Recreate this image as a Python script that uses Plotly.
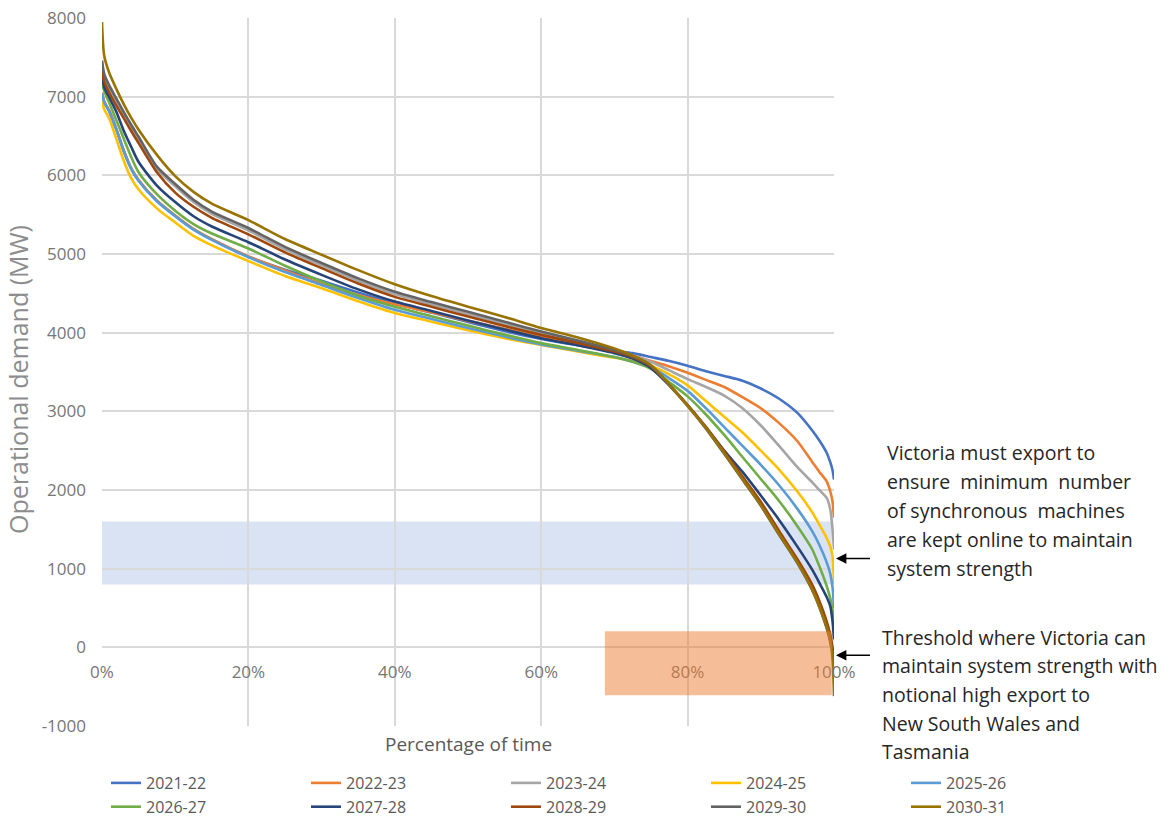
import plotly.graph_objects as go

# ---------------- data ----------------
pct = [0, 0.3, 1, 2, 3, 4, 5, 7.5, 10, 12.5, 15, 20, 25, 30, 35, 40, 45, 50, 55, 60,
       65, 70, 72.5, 75, 77.5, 80, 82.5, 85, 87.5, 90, 92.5, 95, 97, 98, 99, 99.5, 99.8, 100]

names = ["2021-22", "2022-23", "2023-24", "2024-25", "2025-26",
         "2026-27", "2027-28", "2028-29", "2029-30", "2030-31"]

d2021_22 = [7045, 6935, 6815, 6575, 6305, 6085, 5935, 5675, 5485, 5315, 5185, 4965, 4800, 4660, 4510, 4370, 4255, 4135, 4020, 3920,
            3840, 3770, 3740, 3690, 3640, 3580, 3510, 3450, 3390, 3290, 3160, 2980, 2760, 2630, 2474, 2350, 2250, 2132]
d2022_23 = [7050, 6940, 6820, 6580, 6310, 6090, 5940, 5680, 5490, 5320, 5190, 4970, 4790, 4620, 4480, 4360, 4260, 4150, 4050, 3950,
            3860, 3760, 3710, 3640, 3570, 3490, 3400, 3310, 3180, 3040, 2850, 2620, 2360, 2230, 2110, 1980, 1850, 1650]
d2023_24 = [7430, 7260, 7110, 6940, 6770, 6610, 6460, 6080, 5860, 5660, 5510, 5300, 5060, 4855, 4660, 4490, 4360, 4235, 4110, 3990,
            3880, 3770, 3710, 3630, 3520, 3410, 3310, 3200, 3040, 2820, 2560, 2290, 2100, 2000, 1900, 1750, 1500, 1244]
d2024_25 = [6950, 6840, 6720, 6450, 6180, 5960, 5820, 5580, 5400, 5230, 5110, 4910, 4720, 4565, 4400, 4250, 4140, 4030, 3930, 3845,
            3760, 3680, 3640, 3580, 3470, 3330, 3130, 2930, 2730, 2500, 2260, 1980, 1720, 1560, 1390, 1280, 1150, 800]
d2025_26 = [7040, 6930, 6810, 6570, 6300, 6080, 5930, 5670, 5480, 5310, 5180, 4960, 4770, 4606, 4440, 4290, 4175, 4060, 3950, 3850,
            3770, 3690, 3630, 3560, 3420, 3260, 3040, 2800, 2560, 2320, 2060, 1760, 1480, 1300, 1080, 930, 760, 500]
d2026_27 = [7200, 7070, 6920, 6690, 6460, 6230, 6040, 5760, 5550, 5380, 5260, 5070, 4850, 4650, 4470, 4330, 4210, 4090, 3975, 3867,
            3780, 3690, 3630, 3540, 3370, 3190, 2960, 2700, 2420, 2140, 1860, 1540, 1250, 1030, 780, 620, 480, 300]
d2027_28 = [7300, 7120, 6990, 6800, 6560, 6360, 6170, 5870, 5660, 5480, 5350, 5150, 4930, 4735, 4550, 4395, 4275, 4155, 4040, 3930,
            3840, 3740, 3670, 3550, 3330, 3080, 2800, 2500, 2230, 1930, 1620, 1280, 990, 820, 640, 520, 330, 100]
d2028_29 = [7370, 7190, 7050, 6880, 6720, 6560, 6410, 6040, 5780, 5600, 5460, 5250, 5020, 4820, 4625, 4455, 4330, 4205, 4085, 3972,
            3870, 3760, 3690, 3570, 3340, 3080, 2800, 2490, 2170, 1850, 1480, 1120, 800, 590, 330, 160, 0, -150]
d2029_30 = [7460, 7290, 7140, 6970, 6800, 6640, 6490, 6110, 5890, 5690, 5540, 5330, 5090, 4885, 4690, 4520, 4390, 4265, 4140, 4014,
            3900, 3780, 3700, 3580, 3330, 3070, 2780, 2460, 2130, 1800, 1430, 1070, 730, 510, 240, 60, -90, -300]
d2030_31 = [7950, 7520, 7300, 7090, 6900, 6730, 6580, 6260, 5990, 5790, 5640, 5430, 5190, 4990, 4795, 4615, 4465, 4330, 4200, 4060,
            3940, 3800, 3710, 3590, 3340, 3070, 2790, 2470, 2140, 1810, 1440, 1080, 740, 520, 260, 80, -150, -620]

series = [d2021_22, d2022_23, d2023_24, d2024_25, d2025_26,
          d2026_27, d2027_28, d2028_29, d2029_30, d2030_31]

x_tick_vals = [0, 20, 40, 60, 80, 100]
x_tick_text = ["0%", "20%", "40%", "60%", "80%", "100%"]
y_tick_vals = [-1000, 0, 1000, 2000, 3000, 4000, 5000, 6000, 7000, 8000]
y_tick_text = ["-1000", "0", "1000", "2000", "3000", "4000", "5000", "6000", "7000", "8000"]

# bands (MW) and arrow targets
band_sync = (800, 1600)
band_threshold = (-610, 205)
band_threshold_x = (68.7, 99.7)
arrow_sync_y = 1130
arrow_threshold_y = -100

note1 = ["Victoria must export to", "ensure  minimum  number", "of synchronous  machines",
         "are kept online to maintain", "system strength"]
note2 = ["Threshold where Victoria can", "maintain system strength with", "notional high export to",
         "New South Wales and", "Tasmania"]

# ---------------- style ----------------
colors = ["#4472C4", "#ED7D31", "#A5A5A5", "#FFC000", "#5B9BD5",
          "#70AD47", "#264478", "#9E480E", "#636363", "#997300"]
FONT = "Open Sans"
GRID = "#d9d9d9"
TICK = "#767676"

W, H = 1174, 817
L, R, T, B = 102, 340, 18, 91
PW, PH = W - L - R, H - T - B


def px_x(x):
    return (x - L) / PW


def px_y(y):
    return (H - B - y) / PH


fig = go.Figure()
for name, vals, col in zip(names, series, colors):
    fig.add_trace(go.Scatter(x=pct, y=vals, name=name, mode="lines",
                             line=dict(color=col, width=2.6, shape="spline", smoothing=0.7)))

fig.add_shape(type="rect", xref="x", yref="y", x0=0, x1=99.7,
              y0=band_sync[0], y1=band_sync[1], fillcolor="#DAE3F3",
              line_width=0, layer="below")
fig.add_shape(type="rect", xref="x", yref="y", x0=band_threshold_x[0], x1=band_threshold_x[1],
              y0=band_threshold[0], y1=band_threshold[1], fillcolor="rgba(237,125,49,0.5)",
              line_width=0, layer="above")

annotations = []
for yv in (arrow_sync_y, arrow_threshold_y):
    annotations.append(dict(x=px_x(836), y=yv, xref="paper", yref="y", text="\u00a0", showarrow=True,
                            ax=36, ay=0, axref="pixel", ayref="pixel", standoff=0, startstandoff=0,
                            arrowhead=2, arrowsize=1.3, arrowwidth=1.6, arrowcolor="#000000",
                            font=dict(size=4)))

for i, line in enumerate(note1):
    annotations.append(dict(x=px_x(885), y=px_y(453 + i * 28.8), xref="paper", yref="paper",
                            text=line, showarrow=False, xanchor="left", yanchor="middle",
                            font=dict(family=FONT, size=19.5, color="#262626")))
for i, line in enumerate(note2):
    annotations.append(dict(x=px_x(880), y=px_y(637 + i * 28.7), xref="paper", yref="paper",
                            text=line, showarrow=False, xanchor="left", yanchor="middle",
                            font=dict(family=FONT, size=19.5, color="#262626")))

annotations.append(dict(x=0.5, y=px_y(744), xref="paper", yref="paper", text="Percentage of time",
                        showarrow=False, xanchor="center", yanchor="middle",
                        font=dict(family=FONT, size=19, color="#595959")))
annotations.append(dict(x=px_x(18), y=px_y(380), xref="paper", yref="paper", text="Operational demand (MW)",
                        showarrow=False, xanchor="center", yanchor="middle", textangle=-90,
                        font=dict(family=FONT, size=25, color="#8c8c8c")))

fig.update_layout(
    width=W, height=H,
    margin=dict(l=L, r=R, t=T, b=B, autoexpand=False),
    paper_bgcolor="white", plot_bgcolor="white",
    font=dict(family=FONT, color=TICK),
    showlegend=True,
    legend=dict(orientation="h", x=px_x(1106), xanchor="right", y=px_y(766), yanchor="top",
                entrywidth=155, entrywidthmode="pixels", traceorder="normal",
                font=dict(family=FONT, size=16, color="#595959"), itemwidth=30,
                tracegroupgap=0, bgcolor="rgba(0,0,0,0)"),
    annotations=annotations,
    xaxis=dict(range=[0, 100], tickvals=x_tick_vals, ticktext=x_tick_text,
               showgrid=True, gridcolor=GRID, gridwidth=1.5, zeroline=False, showline=False,
               anchor="free", position=1 / 9, ticks="", ticklabelstandoff=13,
               tickfont=dict(family=FONT, size=17, color=TICK)),
    yaxis=dict(range=[-1000, 8000], tickvals=y_tick_vals, ticktext=y_tick_text,
               showgrid=True, gridcolor=GRID, gridwidth=1.5, zeroline=True, zerolinecolor=GRID,
               zerolinewidth=1.5, showline=False, ticks="", ticklabelstandoff=15,
               tickfont=dict(family=FONT, size=17, color=TICK)),
)

fig.write_html("out.html", config={"displayModeBar": False},
               post_script="document.body.style.margin='0px';document.body.style.overflow='hidden';")
